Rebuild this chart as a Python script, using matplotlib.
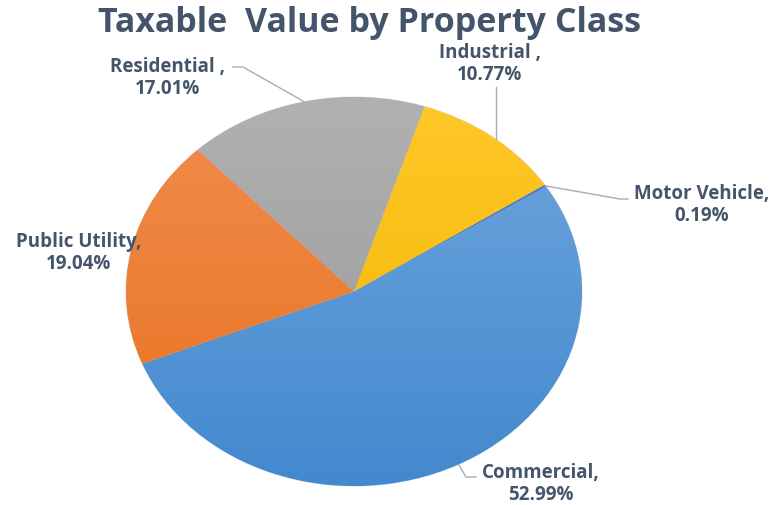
import numpy as np
import matplotlib.pyplot as plt
from matplotlib.colors import LinearSegmentedColormap

# data
classes = ['Industrial', 'Motor Vehicle', 'Commercial', 'Public Utility', 'Residential']
shares = [10.77, 0.19, 52.99, 19.04, 17.01]
label_sep = [' ,', ',', ',', ',', ' ,']

# colours (top, bottom) for the excel-like gradient
top_cols = ['#ffc829', '#4f81c9', '#6fa6dd', '#f18d4e', '#b1b1b1']
bot_cols = ['#f2b400', '#3f6fb8', '#4389cf', '#e8711f', '#979797']

txt_col = '#44546a'
line_col = '#a6adb8'

fig = plt.figure(figsize=(7.8, 5.06), dpi=100)
ax = fig.add_axes([0, 0, 1, 1])

# pie centre / radii in pixels
cx, cy, rx, ry = 354, 292.5, 228, 194.5
W, H = 780, 506

wedges, _ = ax.pie(shares, startangle=72, counterclock=False,
                   colors=bot_cols, radius=1,
                   wedgeprops=dict(edgecolor='#d9d9d9', linewidth=0.6))
ax.set_aspect('auto')
ax.axis('off')

# vertical gradient inside each wedge
for w, c1, c2 in zip(wedges, top_cols, bot_cols):
    cmap = LinearSegmentedColormap.from_list('g', [c2, c1])
    grad = np.linspace(0, 1, 256).reshape(-1, 1)
    im = ax.imshow(grad, cmap=cmap, extent=[-1, 1, -1, 1], origin='lower',
                   aspect='auto', zorder=w.get_zorder() + 0.1)
    im.set_clip_path(w)
ax.set_xlim(-cx / rx, (W - cx) / rx)
ax.set_ylim((cy - H) / ry, cy / ry)


def px(x, y):
    # pixel position (top-left origin) -> data coords
    return (x - cx) / rx, (cy - y) / ry


# label positions (pixels) and leader-line bend points
label_pos = [(490, 64), (702, 205), (541, 484), (79, 253), (168, 78)]
bends = [[(496, 88)],
         [(620, 200), (628, 200)],
         [(466, 478), (476, 478)],
         None,
         [(243, 68), (233, 68)]]

for w, name, sh, sep, (lx, ly), bp in zip(wedges, classes, shares, label_sep, label_pos, bends):
    tx, ty = px(lx, ly)
    ax.text(tx, ty, f'{name}{sep}\n{sh:.2f}%', ha='center', va='center',
            fontsize=13.5, fontweight='bold', color=txt_col, family='Open Sans',
            linespacing=1.12)
    if bp is None:
        continue
    # leader line from a point on the wedge edge
    if name == 'Industrial':
        ex, ey = px(496, 140)
    elif name == 'Commercial':
        ex, ey = px(459, 466)
    else:
        ang = np.deg2rad((w.theta1 + w.theta2) / 2)
        ex, ey = np.cos(ang), np.sin(ang)
    xs = [ex] + [px(*p)[0] for p in bp]
    ys = [ey] + [px(*p)[1] for p in bp]
    ax.plot(xs, ys, color=line_col, lw=1)

fig.text(370 / W, 1 - 23 / H, 'Taxable  Value by Property Class', ha='center', va='center',
         fontsize=24.5, fontweight='bold', color=txt_col, family='Open Sans')

plt.savefig('out.png', dpi=100)
